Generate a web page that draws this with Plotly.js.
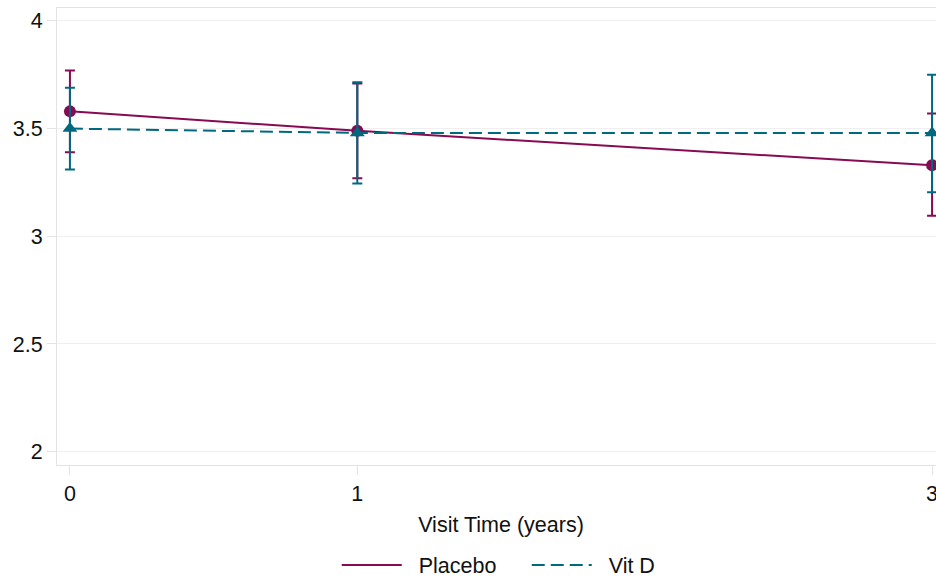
<!DOCTYPE html>
<html>
<head>
<meta charset="utf-8">
<script src="https://cdn.plot.ly/plotly-3.0.1.min.js"></script>
<style>
html,body{margin:0;padding:0;overflow:hidden;background:#fff;}
#chart{width:1000px;height:585px;}
</style>
</head>
<body>
<div id="chart"></div>
<script>
// Data
const visitTimes = [0, 1, 3];
const placeboMean = [3.58, 3.49, 3.33];
const placeboLower = [3.39, 3.27, 3.095];
const placeboUpper = [3.77, 3.71, 3.57];
const vitdMean = [3.50, 3.48, 3.48];
const vitdLower = [3.31, 3.245, 3.205];
const vitdUpper = [3.69, 3.715, 3.75];
const yTickVals = [2, 2.5, 3, 3.5, 4];
const yTickText = ["2", "2.5", "3", "3.5", "4"];
const xTickVals = [0, 1, 3];
const xTickText = ["0", "1", "3"];
const seriesNames = ["Placebo", "Vit D"];

const purple = "#870a52";
const teal = "#00697f";
const FS = 21.5;

function plus(m, u) { return m.map((v, i) => u[i] - v); }
function minus(m, l) { return m.map((v, i) => v - l[i]); }

const gap = "\u00a0\u00a0";

const traces = [
  {
    name: seriesNames[0], showlegend: false,
    x: visitTimes, y: placeboMean,
    type: "scatter", mode: "lines+markers",
    line: {color: purple, width: 2},
    marker: {color: purple, size: 12, symbol: "circle"},
    error_y: {type: "data", symmetric: false, array: plus(placeboMean, placeboUpper),
      arrayminus: minus(placeboMean, placeboLower), color: purple, thickness: 2, width: 5}
  },
  {
    name: seriesNames[1], showlegend: false,
    x: visitTimes, y: vitdMean,
    type: "scatter", mode: "lines+markers",
    line: {color: teal, width: 2, dash: "13px,6px"},
    marker: {color: teal, size: 13, symbol: "triangle-up"},
    error_y: {type: "data", symmetric: false, array: plus(vitdMean, vitdUpper),
      arrayminus: minus(vitdMean, vitdLower), color: teal, thickness: 2, width: 5}
  },
  // legend-only entries (lines without markers, as in the reference legend)
  {
    name: gap + seriesNames[0], x: [null], y: [null], type: "scatter", mode: "lines",
    line: {color: purple, width: 2}, showlegend: true, hoverinfo: "skip"
  },
  {
    name: gap + seriesNames[1], x: [null], y: [null], type: "scatter", mode: "lines",
    line: {color: teal, width: 2, dash: "13px,6px"}, showlegend: true, hoverinfo: "skip"
  }
];

const layout = {
  width: 1000, height: 585,
  margin: {l: 57, r: 55, t: 8, b: 120, autoexpand: false},
  paper_bgcolor: "#fff", plot_bgcolor: "#fff",
  font: {family: "Liberation Sans, Arial, sans-serif", size: FS, color: "#111"},
  xaxis: {
    range: [-0.045, 3.045], automargin: false,
    tickvals: xTickVals, ticktext: xTickText,
    showgrid: false, zeroline: false,
    showline: true, linecolor: "#e3e3e3", linewidth: 1, mirror: true,
    ticks: "outside", ticklen: 9, tickcolor: "#e3e3e3", tickwidth: 1,
    tickfont: {size: FS},
    title: {text: "Visit Time (years)", font: {size: FS}, standoff: 12}
  },
  yaxis: {
    range: [1.938, 4.06], automargin: false,
    tickvals: yTickVals, ticktext: yTickText,
    showgrid: true, gridcolor: "#efefef", gridwidth: 1, zeroline: false,
    showline: true, linecolor: "#e3e3e3", linewidth: 1, mirror: true,
    ticks: "outside", ticklen: 9, tickcolor: "#e3e3e3", tickwidth: 1,
    tickfont: {size: FS}
  },
  showlegend: true,
  legend: {
    orientation: "h", x: 0.529, xanchor: "center", y: -0.219, yanchor: "middle",
    itemwidth: 60, entrywidth: 115, font: {size: FS}, bgcolor: "rgba(0,0,0,0)"
  }
};

Plotly.newPlot("chart", traces, layout, {displayModeBar: false, staticPlot: true});
</script>
</body>
</html>
